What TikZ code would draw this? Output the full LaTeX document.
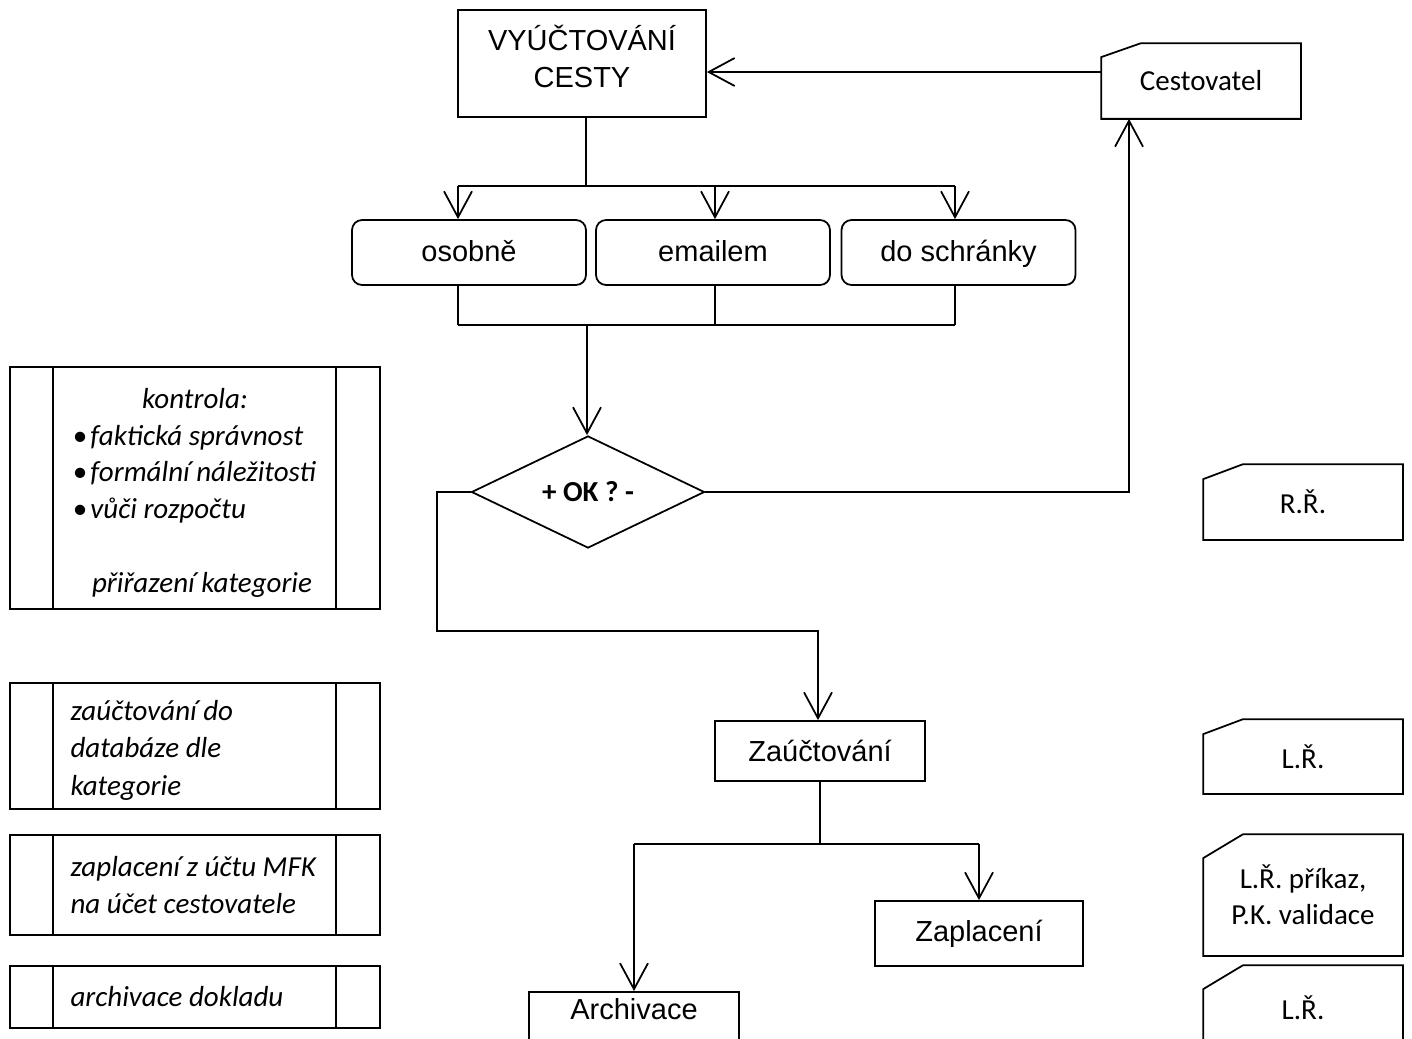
\documentclass[tikz,border=0pt]{standalone}
\usepackage{fontspec}
\newfontfamily\arialf{Liberation Sans}
\newfontfamily\calib{Carlito}
\usetikzlibrary{arrows.meta,shapes.geometric,calc}

\tikzset{
  proc/.style={draw, inner sep=0pt, align=center,
    font=\arialf\fontsize{16.5}{21}\selectfont},
  choice/.style={proc, rounded corners=0.2cm, minimum width=4.68cm, minimum height=1.3cm,
    text height=14pt, text depth=4pt},
  decide/.style={draw, diamond, inner sep=0pt,
    font=\calib\bfseries\fontsize{16.5}{20}\selectfont},
  docbox/.style={inner sep=0pt, minimum width=3.96cm, align=center,
    font=\calib\fontsize{16.5}{20.5}\selectfont},
  sidebox/.style={draw, inner sep=0pt, minimum width=7.4cm,
    font=\calib\itshape\fontsize{16.5}{20.8}\selectfont},
  arr/.style={-{Straight Barb[length=0.52cm,width=0.56cm]}}
}

\begin{document}
\begin{tikzpicture}[x=0.02cm, y=-0.02cm, line width=1pt]
  \clip (0,0) rectangle (1412,1038);
  % main flow
  \node[proc, minimum width=4.96cm, minimum height=2.14cm, text depth=8pt] (vyuct) at (582,63.5) {VYÚČTOVÁNÍ\\CESTY};
  \node[docbox, minimum height=1.48cm] (cest) at (1201,81) {Cestovatel};
  \node[choice] (osob) at (469,252.5) {osobně};
  \node[choice] (email) at (713,252.5) {emailem};
  \node[choice] (schr) at (958.5,252.5) {do schránky};
  \node[decide, minimum width=4.66cm, minimum height=1.88cm] (ok) at (588,492) {+ OK ? -};
  \node[proc, minimum width=4.2cm, minimum height=1.2cm] (zauct) at (820,751) {Zaúčtování};
  \node[proc, minimum width=4.16cm, minimum height=1.3cm] (zapl) at (979,933.5) {Zaplacení};
  \node[proc, anchor=north, minimum width=4.2cm, inner ysep=4pt, text depth=1.5cm] (arch) at (634,991) {Archivace};

  % documents on the right
  \node[docbox, minimum height=1.48cm] (rr) at (1303,502) {R.Ř.};
  \node[docbox, minimum height=1.46cm] (lr1) at (1303,756.5) {L.Ř.};
  \node[docbox, minimum height=2.4cm] (lr2) at (1303,895) {L.Ř. příkaz,\\P.K. validace};
  \node[docbox, minimum height=1.68cm] (lr3) at (1303,1008) {L.Ř.};
  \foreach \n/\d in {cest/14, rr/15, lr1/15, lr2/24, lr3/24}
    \draw (\n.south west) -- ($(\n.north west)+(0,\d)$) -- ($(\n.north west)+(40,0)$)
      -- (\n.north east) -- (\n.south east) -- cycle;

  % activities on the left
  \node[sidebox, minimum height=4.84cm] (kontr) at (195,488) {\parbox{5.62cm}{%
    \vspace*{6pt}\centering kontrola:\par
    \raggedright\leftskip=0.36cm
    \textbullet\hspace{2pt}faktická správnost\\
    \textbullet\hspace{2pt}formální náležitosti\\
    \textbullet\hspace{2pt}vůči rozpočtu\par
    \vspace{21.5pt}
    \leftskip=0.75cm přiřazení kategorie}};
  \node[sidebox, minimum height=2.52cm] (zauctTxt) at (195,746) {\parbox{5.62cm}{%
    \fontsize{16.5}{21.5}\selectfont\vspace*{5pt}
    \raggedright\leftskip=0.32cm zaúčtování do\\databáze dle\\kategorie}};
  \node[sidebox, minimum height=2.0cm] (zaplTxt) at (195,885) {\parbox{5.62cm}{%
    \raggedright\leftskip=0.32cm zaplacení z účtu MFK\\na účet cestovatele}};
  \node[sidebox, minimum height=1.24cm] (archTxt) at (195,997) {\parbox{5.62cm}{%
    \raggedright\leftskip=0.32cm archivace dokladu}};
  \foreach \n in {kontr, zauctTxt, zaplTxt, archTxt}
    \draw ([xshift=0.88cm]\n.north west) -- ([xshift=0.88cm]\n.south west)
          ([xshift=-0.9cm]\n.north east) -- ([xshift=-0.9cm]\n.south east);

  % connectors
  \draw[arr] ([yshift=0.18cm]cest.west) -- ([yshift=0.18cm]cest.west -| vyuct.east);
  \draw ([xshift=0.08cm]vyuct.south) -- ++(0,68) coordinate (split1);
  \draw ([xshift=-0.22cm]osob.north |- split1) -- ([xshift=-0.07cm]schr.north |- split1);
  \foreach \n/\s in {osob/-0.22, email/0.04, schr/-0.07}
    \draw[arr] ([xshift=\s cm]\n.north |- split1) -- ([xshift=\s cm]\n.north);

  \coordinate (merge) at (587,325);
  \foreach \n/\s in {osob/-0.22, email/0.04, schr/-0.07}
    \draw ([xshift=\s cm]\n.south) -- ([xshift=\s cm]\n.south |- merge);
  \draw ([xshift=-0.22cm]osob.south |- merge) -- ([xshift=-0.07cm]schr.south |- merge);
  \draw[arr] (merge) -- (merge |- ok.north);

  \coordinate (bend) at (437,631);
  \draw[arr] (ok.west) -| (bend) -| ([xshift=-0.04cm]zauct.north);
  \draw[arr] (ok.east) -| ([xshift=-1.44cm]cest.south);

  \draw (zauct.south) -- ++(0,62) coordinate (split2);
  \draw (split2 -| arch.north) -- (split2 -| zapl.north);
  \draw[arr] (split2 -| arch.north) -- (arch.north);
  \draw[arr] (split2 -| zapl.north) -- (zapl.north);
\end{tikzpicture}
\end{document}
